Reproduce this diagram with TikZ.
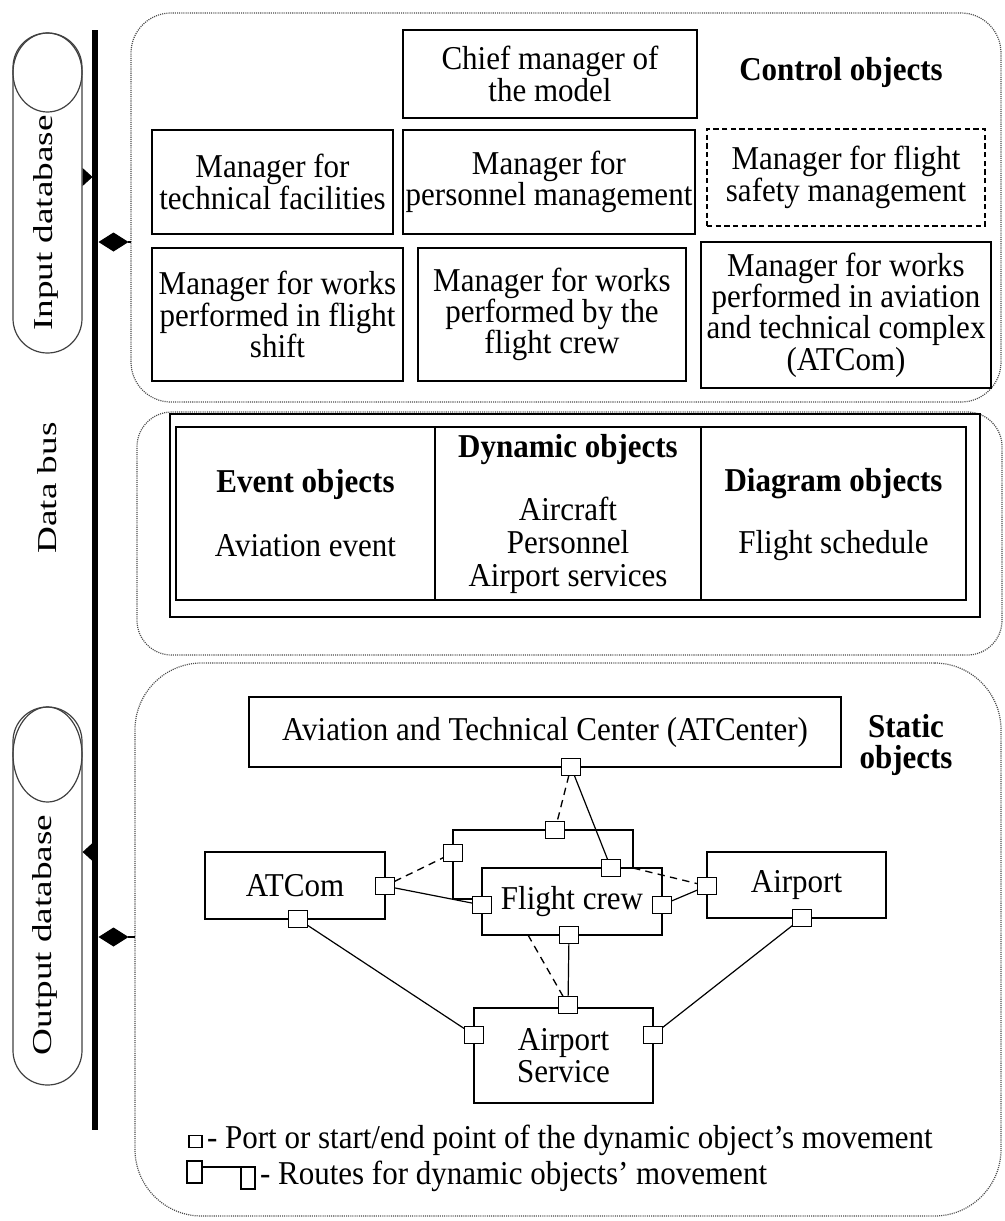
\documentclass[tikz,border=0pt]{standalone}
\usepackage{fontspec}
\setmainfont{Liberation Serif}[FakeStretch=0.93]
\newfontfamily\sidefont{Liberation Serif}[FakeStretch=1.36]
\usetikzlibrary{shapes.geometric,arrows.meta,calc}

\begin{document}
\begin{tikzpicture}[x=0.75pt,y=-0.75pt,
  lbl/.style={font=\fontsize{25}{23.5}\selectfont, align=center, inner sep=0pt, outer sep=0pt},
  head/.style={lbl, font=\fontsize{25}{21}\selectfont\bfseries},
  box/.style={lbl, draw, line width=1.1pt, fill=white},
  region/.style={draw=black!70, line width=0.9pt, dash pattern=on 0.8pt off 0.8pt,
                 rounded corners=#1, inner sep=0pt, outer sep=0pt},
  dbcap/.style={draw=black!75, line width=0.9pt, rounded corners=25.8pt, inner sep=0pt},
  dbend/.style={ellipse, draw=black!75, line width=0.9pt, inner sep=0pt},
  sidelbl/.style={font=\sidefont\fontsize{20.5}{22}\selectfont, rotate=90, inner sep=0pt},
  busline/.style={line width=4.5pt},
  flow/.style={-{Triangle[length=7.5pt,width=13.5pt]}, line width=0.8pt},
  hold/.style={-{Diamond[length=22.5pt,width=14.25pt]}, line width=0.8pt},
  port/.style={draw, line width=1.1pt, fill=white, minimum width=14.25pt,
               minimum height=12.75pt, inner sep=0pt, outer sep=0pt},
  route/.style={line width=0.9pt},
  altroute/.style={line width=1pt, dash pattern=on 5.5pt off 4pt},
  legsq/.style={draw, line width=0.8pt, inner sep=0pt, outer sep=0pt}
]
\useasboundingbox (0,0) rectangle (1004,1221);

% ---------- object groups ----------
\node[region=30pt, minimum width=652.5pt, minimum height=291.75pt] (ctrl) at (566,207.5) {};
\node[region=26pt, minimum width=648.75pt, minimum height=182.25pt] (dyn) at (569.5,533.5) {};
\node[region=50pt, minimum width=649.5pt, minimum height=414.75pt] (stat) at (568,939.5) {};

% ---------- data bus and databases ----------
\coordinate (busT) at (95,30);
\coordinate (busB) at (95,1130);
\draw[busline] (busT) -- (busB);

\node[dbcap, minimum width=51.75pt, minimum height=240pt] (indb) at (47.5,193) {};
\node[dbend, minimum width=51.75pt, minimum height=59.25pt] (indbend) at (47.5,72.5) {};
\node[sidelbl] (indblbl) at (46,223) {Input database};

\node[dbcap, minimum width=51.75pt, minimum height=283.5pt] (outdb) at (47.5,896) {};
\node[dbend, minimum width=51.75pt, minimum height=71.25pt] (outdbend) at (47.5,754.5) {};
\node[sidelbl] (outdblbl) at (45,935) {Output database};

\node[sidelbl] (buslbl) at (47,488) {Data bus};

\coordinate (inhit) at (92.5,177);
\draw[flow] (indb.east |- inhit) -- (inhit);
\coordinate (outhit) at (92.5,852);
\draw[flow] (outhit) -- (outdb.east |- outhit);

\coordinate (dia1) at (98.5,242);
\draw[hold] (ctrl.west |- dia1) -- (dia1);
\coordinate (dia2) at (98.5,937);
\draw[hold] (stat.west |- dia2) -- (dia2);

% ---------- control objects ----------
\node[box, font=\fontsize{25}{21}\selectfont, minimum width=220.5pt, minimum height=66pt] (chief) at (550,74) {Chief manager of\\the model};
\node[head] (ctrlhead) at (841,72) {Control objects};
\node[box, minimum width=180.75pt, minimum height=78pt] (tech) at (272.5,182) {Manager for\\technical facilities};
\node[box, minimum width=219pt, minimum height=78pt] (pers) at (549,182) {Manager for\\personnel management};
\node[box, dash pattern=on 4pt off 2.5pt, minimum width=208.5pt, minimum height=72.75pt] (safe) at (846,177.5) {Manager for flight\\safety management};
\node[box, minimum width=188.25pt, minimum height=99.75pt] (shift) at (277.5,314.5) {Manager for works\\performed in flight\\shift};
\node[box, minimum width=201pt, minimum height=99.75pt] (crewmgr) at (552,314.5) {Manager for works\\performed by the\\flight crew};
\node[box, minimum width=217.5pt, minimum height=109.5pt] (atcmgr) at (846,315) {Manager for works\\performed in aviation\\and technical complex\\(ATCom)};

% ---------- dynamic, event and diagram objects ----------
\node[box, minimum width=607.5pt, minimum height=152.25pt] (tblout) at (575,515.5) {};
\node[box, minimum width=592.5pt, minimum height=129.75pt] (tbl) at (571,513.5) {};
\coordinate (colA) at (435,0);
\coordinate (colB) at (701,0);
\draw[line width=1.1pt] (tbl.north -| colA) -- (tbl.south -| colA);
\draw[line width=1.1pt] (tbl.north -| colB) -- (tbl.south -| colB);
\node[head] (evh) at (305.5,484) {Event objects};
\node[lbl] (evt) at (305.5,546) {Aviation event};
\node[head] (dyh) at (568,450) {Dynamic objects};
\node[lbl, font=\fontsize{25}{24.75}\selectfont] (dyt) at (568,545) {Aircraft\\Personnel\\Airport services};
\node[head] (dgh) at (833.5,484) {Diagram objects};
\node[lbl] (dgt) at (833.5,546) {Flight schedule};

% ---------- static objects ----------
\node[box, minimum width=444pt, minimum height=52.5pt] (atc) at (545,732) {Aviation and Technical Center (ATCenter)};
\node[head, font=\fontsize{25}{23.5}\selectfont\bfseries] (stath) at (906,745) {Static\\objects};
\node[draw, line width=1.1pt, inner sep=0pt, outer sep=0pt, minimum width=135pt, minimum height=51.75pt] (frm) at (543,864.5) {};
\node[box, minimum width=135pt, minimum height=50.25pt] (atcom) at (295,885.5) {ATCom};
\node[box, minimum width=135pt, minimum height=50.25pt] (crew) at (572,901.5) {Flight crew};
\node[box, minimum width=134.25pt, minimum height=49.5pt] (apt) at (796.5,885) {Airport};
\node[box, minimum width=134.25pt, minimum height=71.25pt] (svc) at (563.5,1055.5) {Airport\\Service};

% ports
\node[port] (pC)  at (571,767) {};
\node[port] (pFt) at (555,830) {};
\node[port] (pFl) at (453,853) {};
\node[port] (pCt) at (611,868) {};
\node[port] (pCl) at (482,905) {};
\node[port] (pCr) at (662,905) {};
\node[port] (pCb) at (569,935) {};
\node[port] (pAr) at (385,886) {};
\node[port] (pAb) at (298,919) {};
\node[port] (pPl) at (707,886) {};
\node[port] (pPb) at (802,918) {};
\node[port] (pSt) at (568,1005) {};
\node[port] (pSl) at (474,1035) {};
\node[port] (pSr) at (653,1035) {};

\coordinate (frR) at (633,868);
\coordinate (crB) at (528,935);

% routes
\draw[route] (pC) -- (pCt);
\draw[route] (pAr) -- (pCl);
\draw[route] (pCr) -- (pPl);
\draw[route] (pCb) -- (pSt);
\draw[route] (pAb) -- (pSl);
\draw[route] (pPb) -- (pSr);
\draw[altroute] (pC) -- (pFt);
\draw[altroute] (pAr) -- (pFl);
\draw[altroute] (frR) -- (pPl);
\draw[altroute] (crB) -- (pSt);

% ---------- legend ----------
\node[legsq, minimum width=9.75pt, minimum height=9pt] (lg1) at (195.5,1141.5) {};
\node[lbl, anchor=base west] (lgt1) at (207,1148) {- Port or start/end point of the dynamic object’s movement};
\node[legsq, minimum width=11.25pt, minimum height=16.5pt] (lg2a) at (194.5,1172) {};
\node[legsq, minimum width=10.5pt, minimum height=16.5pt] (lg2b) at (248,1178) {};
\draw[line width=0.8pt] (lg2a.east |- lg2b.north) -- (lg2b.north west);
\node[lbl, anchor=base west] (lgt2) at (260,1184) {- Routes for dynamic objects’ movement};
\end{tikzpicture}
\end{document}
